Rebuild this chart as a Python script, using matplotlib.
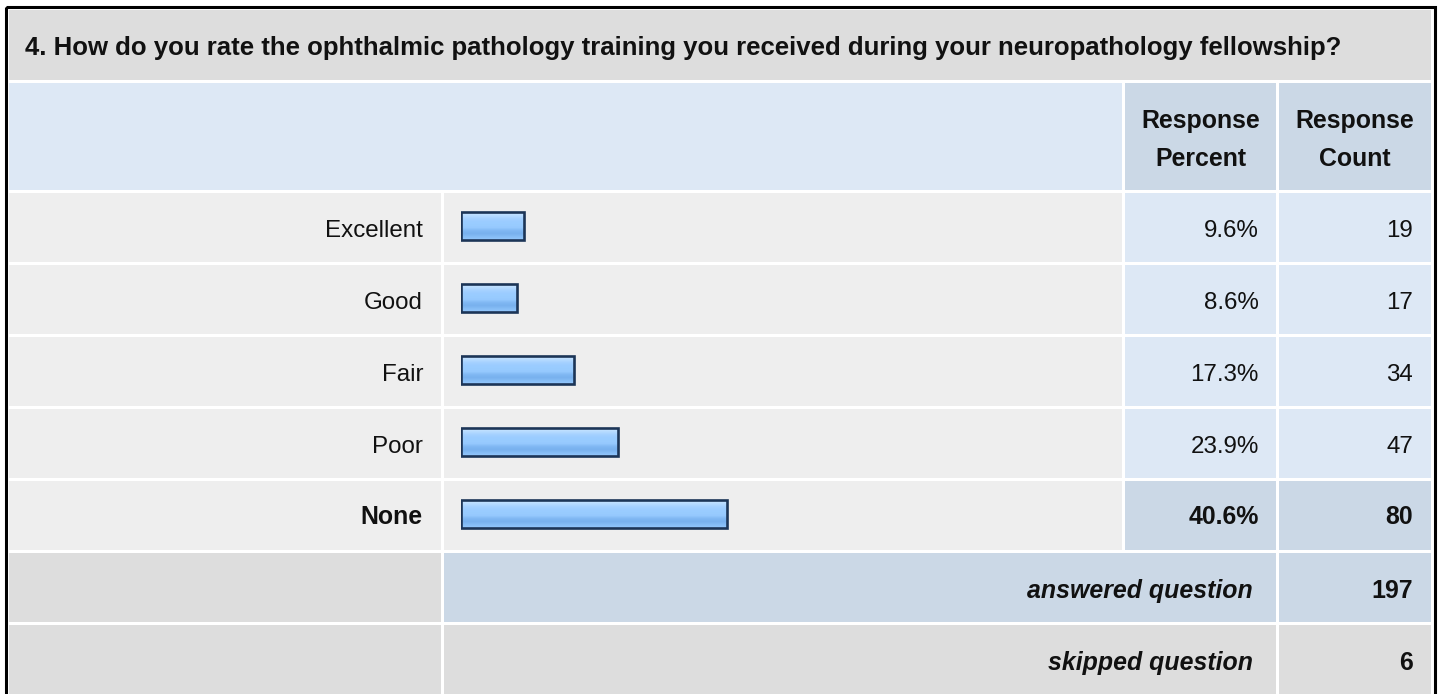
import matplotlib
matplotlib.use("Agg")
import matplotlib.pyplot as plt
from matplotlib.patches import Rectangle
from matplotlib.colors import LinearSegmentedColormap
import numpy as np

# ---------------- data ----------------
title = "4. How do you rate the ophthalmic pathology training you received during your neuropathology fellowship?"
categories = ["Excellent", "Good", "Fair", "Poor", "None"]
percents = [9.6, 8.6, 17.3, 23.9, 40.6]
counts = [19, 17, 34, 47, 80]
highlight = [False, False, False, False, True]
answered = 197
skipped = 6
header_cols = [("Response", "Percent"), ("Response", "Count")]

# ---------------- style ----------------
W, H = 1440, 694
plt.rcParams['font.family'] = ['Liberation Sans', 'DejaVu Sans']
FS = 17.4      # regular text
FSB = 17.9     # bold text
FST = 18.5     # title

C_TITLE = "#dddddd"
C_HEAD = "#dde8f5"
C_HEAD2 = "#cbd8e6"
C_ROW = "#eeeeee"
C_VAL = "#dde8f5"
C_VALHI = "#cbd8e6"
C_FOOT = "#dddddd"
TXT = "#111111"

fig = plt.figure(figsize=(W / 100, H / 100), dpi=100)
fig.patch.set_facecolor("white")
ax = fig.add_axes([0, 0, 1, 1])
ax.set_xlim(0, W)
ax.set_ylim(H, 0)
ax.axis("off")

def cell(x0, x1, y0, y1, color):
    ax.add_patch(Rectangle((x0, y0), x1 - x0, y1 - y0, facecolor=color, edgecolor="none", zorder=1))

# outer border
ax.add_patch(Rectangle((5.5, 6.5), 1429, 700, facecolor="none", edgecolor="black", linewidth=2.2, zorder=5))

# columns
c_lab = (9, 441)
c_bar = (444, 1122)
c_pct = (1125, 1276)
c_cnt = (1279, 1431)

# title row
cell(9, 1431, 10, 80, C_TITLE)
ax.text(25, 55, title, fontsize=FST, fontweight="bold", ha="left", va="baseline", zorder=3, color=TXT)

# header row
cell(c_lab[0], c_bar[1], 83, 190, C_HEAD)
for (a, b), col in zip(header_cols, [c_pct, c_cnt]):
    cell(col[0], col[1], 83, 190, C_HEAD2)
    xc = (col[0] + col[1]) / 2
    ax.text(xc, 128, a, fontsize=FSB, fontweight="bold", ha="center", va="baseline", zorder=3, color=TXT)
    ax.text(xc, 166, b, fontsize=FSB, fontweight="bold", ha="center", va="baseline", zorder=3, color=TXT)

# data rows
row_top0 = 193
pitch = 72
row_h = 69
for i, (cat, p, n, hi) in enumerate(zip(categories, percents, counts, highlight)):
    y0 = row_top0 + pitch * i
    y1 = y0 + row_h
    cell(c_lab[0], c_lab[1], y0, y1, C_ROW)
    cell(c_bar[0], c_bar[1], y0, y1, C_ROW)
    cell(c_pct[0], c_pct[1], y0, y1, C_VALHI if hi else C_VAL)
    cell(c_cnt[0], c_cnt[1], y0, y1, C_VALHI if hi else C_VAL)
    wt = "bold" if hi else "normal"
    fs = FSB if hi else FS
    yb = y0 + 43.5
    ax.text(423, yb, cat, fontsize=fs, fontweight=wt, ha="right", va="baseline", zorder=3, color=TXT)
    ax.text(1259, yb, f"{p:.1f}%", fontsize=fs, fontweight=wt, ha="right", va="baseline", zorder=3, color=TXT)
    ax.text(1413, yb, f"{n}", fontsize=fs, fontweight=wt, ha="right", va="baseline", zorder=3, color=TXT)

# answered row
ya = row_top0 + pitch * 5
cell(c_lab[0], c_lab[1], ya, ya + row_h, C_FOOT)
cell(c_bar[0], c_pct[1], ya, ya + row_h, C_HEAD2)
cell(c_cnt[0], c_cnt[1], ya, ya + row_h, C_HEAD2)
ax.text(1253, ya + 45, "answered question", fontsize=FSB, fontweight="bold", style="italic",
        ha="right", va="baseline", zorder=3, color=TXT)
ax.text(1413, ya + 45, f"{answered}", fontsize=FSB, fontweight="bold", ha="right", va="baseline", zorder=3, color=TXT)

# skipped row
ys = row_top0 + pitch * 6
cell(c_lab[0], c_lab[1], ys, ys + row_h + 5, C_FOOT)
cell(c_bar[0], c_pct[1], ys, ys + row_h + 5, C_FOOT)
cell(c_cnt[0], c_cnt[1], ys, ys + row_h + 5, C_FOOT)
ax.text(1253, ys + 45, "skipped question", fontsize=FSB, fontweight="bold", style="italic",
        ha="right", va="baseline", zorder=3, color=TXT)
ax.text(1413, ys + 45, f"{skipped}", fontsize=FSB, fontweight="bold", ha="right", va="baseline", zorder=3, color=TXT)

# ---------------- bars ----------------
bx0 = 461
px_per_pct = 6.55
bar_top = 190
bax = fig.add_axes([bx0 / W, 1 - (bar_top + 5 * pitch) / H, 100 * px_per_pct / W, 5 * pitch / H])
bax.set_xlim(0, 100)
bax.set_ylim(4.5, -0.5)
bax.axis("off")
bax.patch.set_alpha(0)

ypos = np.arange(len(categories))
bar_h = 0.38
bars = bax.barh(ypos, percents, height=bar_h, color="#99ccff", edgecolor="#1c3557",
                linewidth=1.9, zorder=3)
grad_cols = ["#cfe8ff", "#b9dcff", "#a6d2ff", "#9bccff", "#99ccff", "#96c9fe",
             "#80b8f3", "#78b1ee", "#86bdf6", "#94c8fc"]
cmap = LinearSegmentedColormap.from_list("g", grad_cols)
grad = np.linspace(0, 1, 64).reshape(-1, 1)
for b in bars:
    x, y = b.get_x(), b.get_y()
    w, h = b.get_width(), b.get_height()
    im = bax.imshow(grad, cmap=cmap, aspect="auto", extent=(x, x + w, y + h, y),
                    interpolation="bilinear", zorder=2)
    im.set_clip_path(b)
    b.set_facecolor("none")
bax.set_xlim(0, 100)
bax.set_ylim(4.5, -0.5)

fig.savefig("out.png", dpi=100)
